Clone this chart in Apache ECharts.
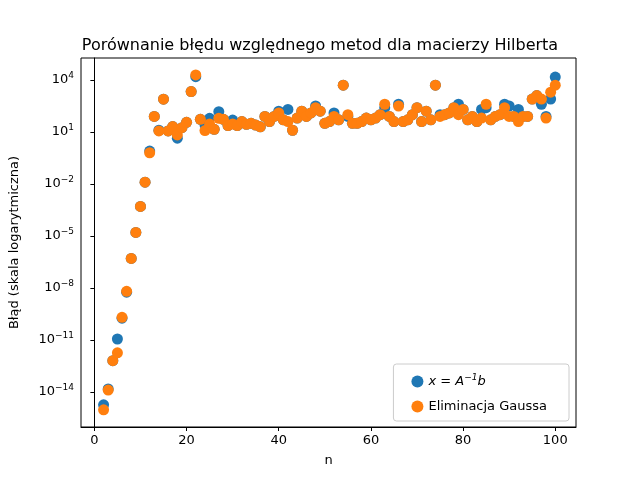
<!DOCTYPE html>
<html><head><meta charset="utf-8">
<script src="https://cdn.jsdelivr.net/npm/echarts@6/dist/echarts.min.js"></script>
<style>html,body{margin:0;padding:0;background:#fff}#c{width:640px;height:480px}</style>
</head><body><div id="c"></div>
<script>
// n values
var nList = [];
for (var k = 2; k <= 100; k++) nList.push(k);
// log10 of relative error, x = A^-1 b
var logInv = [-14.75,-13.83,-12.2,-10.95,-9.75,-8.25,-6.3,-4.8,-3.3,-1.9,-0.1,1.9,1.1,2.89,1.06,1.31,0.64,1.25,1.56,3.33,4.19,1.73,1.4,1.79,1.15,2.17,1.73,1.37,1.69,1.37,1.6,1.44,
1.5,1.4,1.3,1.9,1.6,1.9,2.2,1.7,2.3,1.1,1.8,2.2,1.9,2.1,2.5,2.2,1.5,1.6,2.1,1.7,3.7,1.9,1.5,1.5,1.6,1.8,1.7,1.8,2.0,2.4,1.9,1.6,2.6,1.6,1.7,2.0,2.4,1.6,2.2,1.7,3.7,2.0,2.0,2.1,2.4,2.6,2.3,1.7,1.9,1.6,2.3,2.4,1.7,1.9,2.0,2.6,2.5,1.9,2.3,1.9,1.9,2.9,3.1,2.6,1.9,2.9,4.17];
// log10 of relative error, Gaussian elimination
var logGauss = [-15.04,-13.9,-12.2,-11.75,-9.7,-8.2,-6.3,-4.8,-3.3,-1.9,-0.2,1.9,1.06,2.89,1.06,1.31,0.83,1.25,1.56,3.33,4.29,1.73,1.08,1.46,1.15,1.79,1.73,1.37,1.46,1.37,1.6,1.44,
1.5,1.4,1.3,1.9,1.6,1.9,2.1,1.7,1.6,1.1,1.8,2.2,1.9,2.1,2.4,2.2,1.5,1.6,1.9,1.7,3.7,2.0,1.5,1.5,1.6,1.8,1.7,1.8,2.0,2.6,1.9,1.6,2.5,1.6,1.7,2.0,2.4,1.6,2.2,1.7,3.7,1.9,2.0,2.1,2.4,2.0,2.3,1.7,1.9,1.6,1.8,2.6,1.7,1.9,2.0,2.4,1.9,1.9,1.6,1.9,1.9,2.9,3.1,2.9,1.8,3.3,3.7];
var yTicks = [-14,-11,-8,-5,-2,1,4];
var xTicks = [0,20,40,60,80,100];

function pairs(ys){ return nList.map(function(n,i){ return [n, ys[i]]; }); }
var font = 'DejaVu Sans';
var chart = echarts.init(document.getElementById('c'));
chart.setOption({
  animation:false,
  title:{text:'Porównanie błędu względnego metod dla macierzy Hilberta',left:'center',top:33,
    textStyle:{fontFamily:font,fontSize:16,fontWeight:'normal',color:'#000'}},
  grid:{left:80,right:64,top:58,bottom:53,show:true,borderColor:'#000',borderWidth:1},
  xAxis:{type:'value',min:-2.9,max:104.5,name:'n',nameLocation:'middle',nameGap:27,
    nameTextStyle:{fontFamily:font,fontSize:13,color:'#000'},
    axisLine:{onZero:false,lineStyle:{color:'#000'}},splitLine:{show:false},
    axisTick:{customValues:xTicks,length:4,lineStyle:{color:'#000'}},
    axisLabel:{customValues:xTicks,fontFamily:font,fontSize:13,color:'#000',margin:7}},
  yAxis:{type:'value',min:-16.03,max:5.27,name:'Błąd (skala logarytmiczna)',nameLocation:'middle',nameGap:60,
    nameTextStyle:{fontFamily:font,fontSize:13,color:'#000'},
    axisLine:{show:true,lineStyle:{color:'#000'}},splitLine:{show:false},
    axisTick:{show:true,customValues:yTicks,length:4,lineStyle:{color:'#000'}},
    axisLabel:{customValues:yTicks,fontFamily:font,fontSize:13,color:'#000',margin:7,
      formatter:function(v){ return '10{s|'+String(v).replace('-','\u2212')+'}'; },
      rich:{s:{fontFamily:font,fontSize:9,color:'#000',padding:[0,0,8,0]}}}},
  legend:{orient:'vertical',right:71,bottom:59,itemWidth:12,itemHeight:12,itemGap:12,
    padding:[9,22,8,18],borderColor:'#ccc',borderWidth:1,borderRadius:3,backgroundColor:'#fff',
    textStyle:{fontFamily:font,fontSize:13,color:'#000',
      rich:{i:{fontFamily:font,fontStyle:'italic',fontSize:13},s:{fontFamily:font,fontStyle:'italic',fontSize:9,padding:[0,0,8,0]}}},
    formatter:function(n){ return n==='inv' ? '{i|x} = {i|A}{s|\u22121}{i|b}' : n; },
    data:[{name:'inv',icon:'circle'},{name:'Eliminacja Gaussa',icon:'circle'}]},
  series:[
    {name:'inv',type:'scatter',symbolSize:11,itemStyle:{color:'#1f77b4',opacity:1},data:pairs(logInv)},
    {name:'Eliminacja Gaussa',type:'scatter',symbolSize:11,itemStyle:{color:'#ff7f0e',opacity:1},data:pairs(logGauss)}
  ]
});
</script></body></html>
